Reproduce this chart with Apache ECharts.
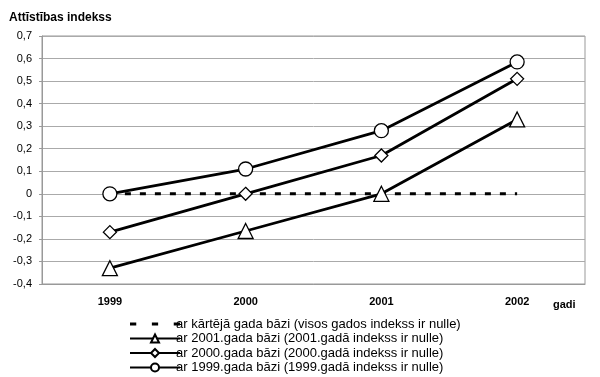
<!DOCTYPE html>
<html><head><meta charset="utf-8">
<script src="https://cdn.jsdelivr.net/npm/echarts@6/dist/echarts.min.js"></script>
<style>html,body{margin:0;padding:0;background:#fff}#c{width:600px;height:377px}</style>
</head><body><div id="c"></div>
<script>
var categories = ['1999', '2000', '2001', '2002'];
var seriesNames = [
  'ar kārtējā gada bāzi (visos gados indekss ir nulle)',
  'ar 2001.gada bāzi (2001.gadā indekss ir nulle)',
  'ar 2000.gada bāzi (2000.gadā indekss ir nulle)',
  'ar 1999.gada bāzi (1999.gadā indekss ir nulle)'
];
var currentBase = [0, 0, 0, 0];
var base2001 = [-0.33, -0.165, 0, 0.33];
var base2000 = [-0.17, 0, 0.17, 0.51];
var base1999 = [0, 0.11, 0.28, 0.585];
var yTicks = { min: -0.4, max: 0.7, interval: 0.1 };

var font = 'Liberation Sans, Arial, sans-serif';
function lineSeries(name, data, symbol, size) {
  return {
    name: name, type: 'line', data: data, symbol: symbol, symbolSize: size,
    showSymbol: true,
    lineStyle: { color: '#000', width: 2.8 },
    itemStyle: { color: '#fff', borderColor: '#000', borderWidth: 1.3 },
    emphasis: { disabled: true }, animation: false
  };
}
var chart = echarts.init(document.getElementById('c'));
chart.setOption({
  animation: false,
  backgroundColor: '#fff',
  title: { text: 'Attīstības indekss', left: 4, top: 7,
    textStyle: { fontFamily: font, fontSize: 12, fontWeight: 'bold', color: '#000' } },
  grid: { left: 42, right: 15, top: 36, bottom: 93, show: true, borderColor: '#999', borderWidth: 1 },
  graphic: [{ type: 'text', left: 553, top: 299,
    style: { text: 'gadi', fontFamily: font, fontSize: 11, fontWeight: 'bold', fill: '#000' } }],
  xAxis: {
    type: 'category', data: categories, boundaryGap: true,
    axisLine: { onZero: false, lineStyle: { color: '#999' } }, axisTick: { show: false },
    axisLabel: { fontFamily: font, fontSize: 11, fontWeight: 'bold', color: '#000', margin: 12 }
  },
  yAxis: {
    type: 'value', min: yTicks.min, max: yTicks.max, interval: yTicks.interval,
    axisLine: { show: true, lineStyle: { color: '#999' } },
    axisTick: { show: true, length: 3, lineStyle: { color: '#999' } },
    splitLine: { lineStyle: { color: '#aaa', width: 1 } },
    axisLabel: { fontFamily: font, fontSize: 11, color: '#000', margin: 10,
      formatter: function (v) { var r = Math.round(v * 10) / 10; return String(r).replace('.', ','); } }
  },
  legend: {
    orient: 'vertical', left: 124, top: 312, height: 70, itemWidth: 50, itemHeight: 10, itemGap: 0.5,
    textStyle: { fontFamily: font, fontSize: 13, lineHeight: 14, color: '#000', padding: [0, 0, 0, -9] },
    data: [
      { name: seriesNames[0], icon: 'path://M0,0h6v3h-6z M21,0h6v3h-6z M42,0h6v3h-6z' },
      seriesNames[1], seriesNames[2], seriesNames[3]
    ]
  },
  series: [
    { name: seriesNames[0], type: 'line', data: currentBase, symbol: 'none',
      lineStyle: { color: '#000', width: 3, type: [6, 9] }, itemStyle: { color: '#000' }, animation: false },
    lineSeries(seriesNames[1], base2001, 'triangle', 15),
    lineSeries(seriesNames[2], base2000, 'diamond', 13),
    lineSeries(seriesNames[3], base1999, 'circle', 14)
  ]
});
</script></body></html>
